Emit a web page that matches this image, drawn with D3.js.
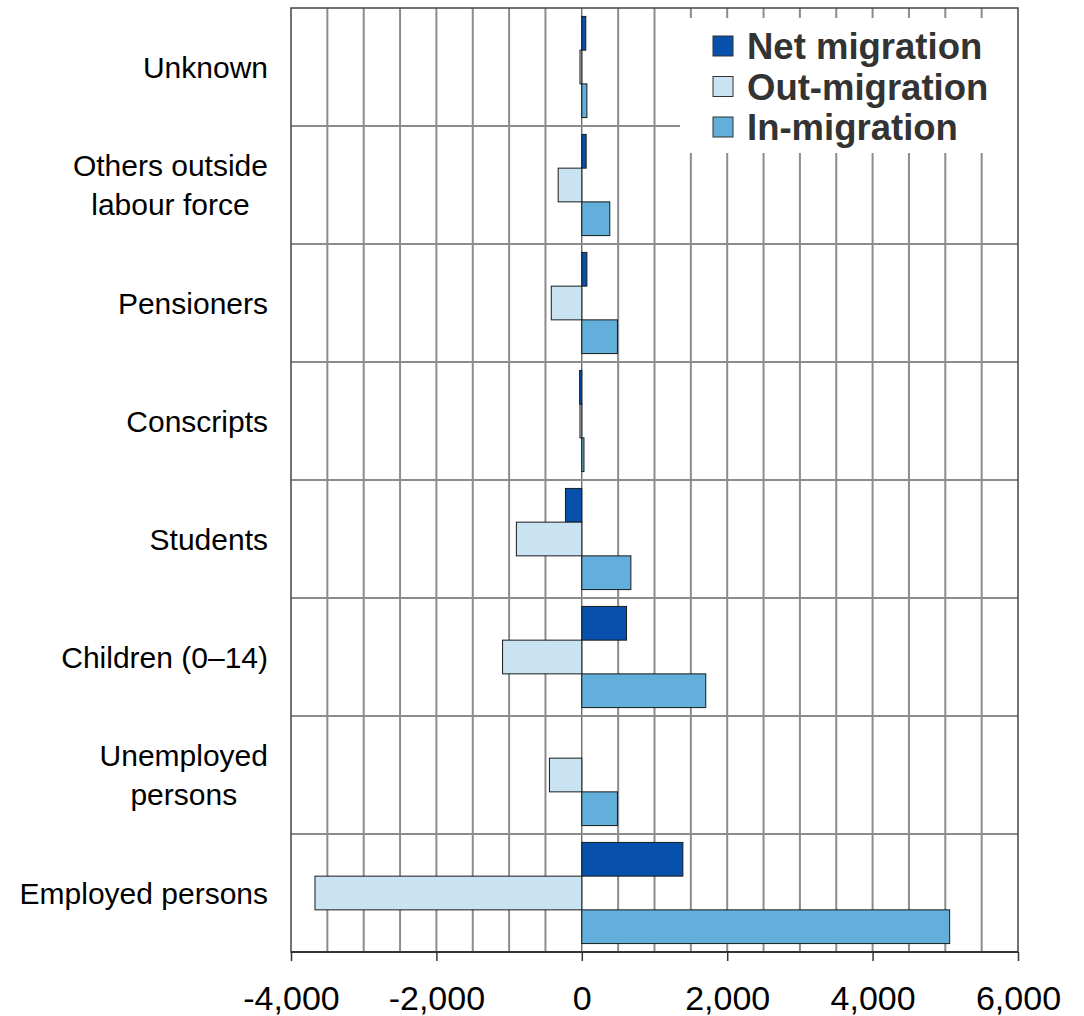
<!DOCTYPE html>
<html><head><meta charset="utf-8">
<script src="https://cdn.jsdelivr.net/npm/d3@7"></script>
<style>body{margin:0;background:#fff}svg{display:block}text{font-family:"Liberation Sans",Arial,sans-serif}</style>
</head><body>
<svg id="c" width="1084" height="1016"></svg>
<script>
const categories = ["Unknown","Others outside\nlabour force","Pensioners","Conscripts","Students","Children (0–14)","Unemployed\npersons","Employed persons"];
const seriesNames = ["Net migration","Out-migration","In-migration"];
const netMigration = [55, 60, 70, -30, -225, 615, 0, 1390];
const outMigration = [-25, -325, -420, -25, -900, -1090, -445, -3670];
const inMigration = [70, 385, 490, 30, 675, 1705, 490, 5060];
const xTicks = [-4000,-2000,0,2000,4000,6000];
const colors = ["#0750AC","#C9E3F2","#61AFDA"];

const svg = d3.select("#c");
const L=291, R=1018, T=8, B=952;
const x = d3.scaleLinear().domain([-4000,6000]).range([L,R]);
const y = d3.scaleBand().domain(categories).range([T,B]).padding(0);
const ys = d3.scaleBand().domain(seriesNames).range([0,y.bandwidth()]).paddingInner(0).paddingOuter(0.25);
const data = [netMigration,outMigration,inMigration];

// gridlines vertical
const grid = svg.append("g");
d3.range(-3500,6000,500).forEach(v=>{
  grid.append("line").attr("x1",x(v)).attr("x2",x(v)).attr("y1",T).attr("y2",B)
    .attr("stroke",v===0?"#333":"#8c8c8c").attr("stroke-width",v===0?1:2);
});
categories.slice(1).forEach(c=>{
  grid.append("line").attr("x1",L).attr("x2",R).attr("y1",y(c)).attr("y2",y(c))
    .attr("stroke","#8c8c8c").attr("stroke-width",2);
});

// legend background covering grid
svg.append("rect").attr("x",680).attr("y",18).attr("width",R-680).attr("height",135).attr("fill","#fff");

// bars
const bars = svg.append("g");
categories.forEach((c,i)=>{
  seriesNames.forEach((s,j)=>{
    const v = data[j][i];
    if (v===0) return;
    bars.append("rect")
      .attr("x",x(Math.min(0,v))).attr("width",Math.abs(x(v)-x(0)))
      .attr("y",y(c)+ys(s)).attr("height",ys.bandwidth())
      .attr("fill",colors[j]).attr("stroke","#1a1a1a").attr("stroke-width",1);
  });
});

// frame
svg.append("rect").attr("x",L).attr("y",T).attr("width",R-L).attr("height",B-T)
  .attr("fill","none").attr("stroke","#444").attr("stroke-width",1.5);
svg.append("line").attr("x1",L).attr("x2",R).attr("y1",B).attr("y2",B).attr("stroke","#333").attr("stroke-width",2);

// x axis
const fmt = d3.format(",");
const xa = svg.append("g").attr("transform",`translate(0,${B})`)
  .call(d3.axisBottom(x).tickValues(xTicks).tickSize(9).tickFormat(d=>fmt(d).replace("\u2212","-")));
xa.select(".domain").remove();
xa.selectAll(".tick line").attr("stroke","#333").attr("stroke-width",1.5);
xa.selectAll(".tick text").attr("y",58).attr("dy",0).attr("font-size",34).attr("fill","#000")
  .attr("font-family","'Liberation Sans',Arial,sans-serif");

// category labels
categories.forEach(c=>{
  const lines = c.split("\n");
  const cy = y(c)+y.bandwidth()/2;
  const t = svg.append("text").attr("class","cat").attr("font-size",30).attr("fill","#000");
  lines.forEach((ln,k)=>{
    t.append("tspan").attr("x",268).attr("text-anchor","end")
      .attr("y",cy+(k-(lines.length-1)/2)*39).attr("dy","0.36em").text(ln);
  });
});
// center multi-line labels like reference
svg.selectAll("text.cat").each(function(){
  const tsp = d3.select(this).selectAll("tspan");
  if (tsp.size()<2) return;
  let maxW=0; tsp.each(function(){maxW=Math.max(maxW,this.getComputedTextLength());});
  tsp.attr("x",268-maxW/2).attr("text-anchor","middle");
});

// legend
const lg = svg.append("g");
seriesNames.forEach((s,j)=>{
  const cy = 46+j*40.5;
  lg.append("rect").attr("x",713).attr("y",cy-10).attr("width",20).attr("height",20)
    .attr("fill",colors[j]).attr("stroke","#333").attr("stroke-width",1);
  lg.append("text").attr("x",747).attr("y",cy).attr("dy","0.36em").attr("font-size",36.5)
    .attr("font-weight","bold").attr("fill","#333").text(s);
});
</script>
</body></html>
